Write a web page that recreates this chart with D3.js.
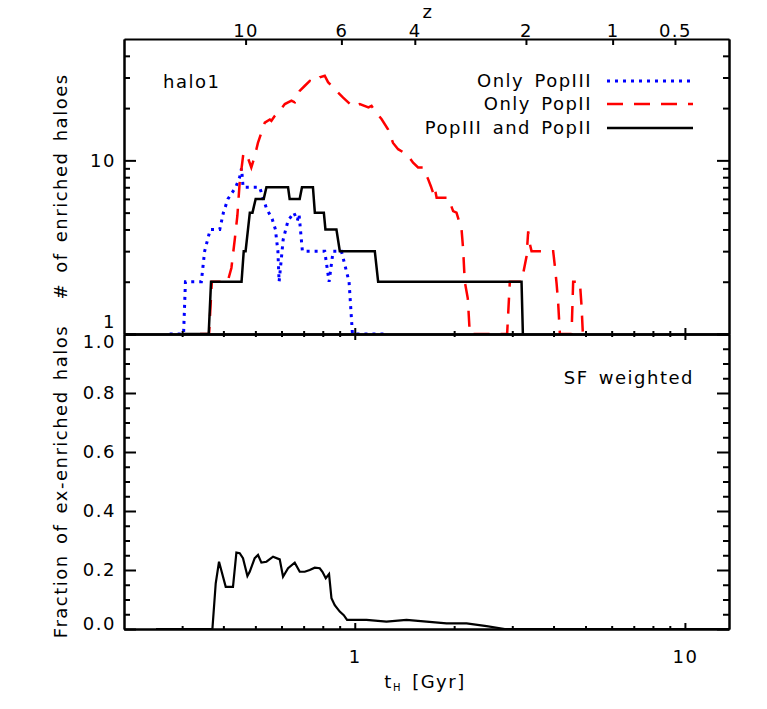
<!DOCTYPE html>
<html lang="en">
<head>
<meta charset="utf-8">
<title>enriched haloes vs time</title>
<script src="https://cdn.jsdelivr.net/npm/d3@7"></script>
<style>
  body { margin: 0; background: #fff; }
  svg text {
    font-family: "DejaVu Sans", sans-serif;
    font-size: 18px;
    letter-spacing: 1.5px;
    word-spacing: 3px;
    fill: #000;
  }
  .axis path, .axis line { stroke: #000; stroke-width: 2px; }
</style>
</head>
<body>
<svg id="chart" width="767" height="709"></svg>
<script>
// values, t in Gyr
var popIIIonly = [[0.275,1],[0.303,1],[0.307,2],[0.343,2],[0.351,3],[0.365,4],[0.390,4],[0.400,5],
  [0.413,6],[0.436,7],[0.448,8],[0.454,9],[0.459,7],[0.515,7],[0.540,5.3],[0.562,4.6],[0.575,4],
  [0.585,3],[0.590,2],[0.607,3.5],[0.628,4.5],[0.654,5],[0.670,4.5],[0.678,4.9],[0.694,3],
  [0.811,3],[0.836,2],[0.860,3],[0.911,3],[0.961,2],[0.984,1],[1.25,1]];

var popIIonly = [[0.340,1],[0.362,1],[0.369,2],[0.412,2],[0.423,2.4],[0.433,3.5],[0.441,4.8],
  [0.448,7.4],[0.454,9],[0.460,11],[0.464,11.1],[0.475,10.3],[0.486,9.1],[0.498,10.6],[0.509,12.6],
  [0.521,14.4],[0.534,16.5],[0.553,17.2],[0.559,16.9],[0.572,18],[0.593,19.3],[0.614,21.1],
  [0.643,22.1],[0.658,21.6],[0.681,25.1],[0.706,26.9],[0.731,28.7],[0.757,28.2],[0.783,30.1],
  [0.811,30.7],[0.830,28.2],[0.850,26.9],[0.922,23],[0.970,21],[0.990,20.3],[1.036,21.1],
  [1.100,20.2],[1.124,20.6],[1.150,19.3],[1.205,17.3],[1.261,15.1],[1.306,12.6],[1.353,11.6],
  [1.418,11],[1.451,10.6],[1.502,9.7],[1.555,9.1],[1.611,9.1],[1.668,7.8],[1.700,7.1],[1.727,6.5],
  [1.745,7.0],[1.770,6.1],[1.918,6.1],[1.986,5.1],[2.033,5.0],[2.106,4.0],[2.129,3.1],[2.154,2.0],
  [2.200,1.6],[2.231,1],[2.894,1],[2.949,2],[3.200,2],[3.314,2.8],[3.352,3.9],[3.391,3.3],
  [3.431,3],[3.990,3],[4.038,2.45],[4.086,1.96],[4.132,1.5],[4.181,1],[4.536,1],[4.587,2],
  [4.806,2],[4.864,1.44],[4.908,1]];

var popIIIandII = [[0.300,1],[0.361,1],[0.367,2],[0.454,2],[0.461,3],[0.467,3],[0.481,5],[0.490,5],
  [0.501,6],[0.530,6],[0.540,7],[0.628,7],[0.635,6],[0.681,6],[0.692,7],[0.747,7],[0.757,5],
  [0.806,5],[0.815,4],[0.880,4],[0.901,3],[1.150,3],[1.177,2],[3.200,2],[3.230,1]];

var fracSF = [[0.25,0],[0.3705,0],[0.3792,0.155],[0.3880,0.228],[0.4066,0.143],[0.4277,0.143],
  [0.4380,0.259],[0.4482,0.257],[0.4586,0.240],[0.4730,0.180],[0.4806,0.194],[0.4977,0.240],
  [0.5093,0.251],[0.5214,0.225],[0.5401,0.228],[0.5656,0.245],[0.5925,0.236],[0.6064,0.177],
  [0.6280,0.206],[0.6579,0.225],[0.6813,0.194],[0.7055,0.194],[0.7305,0.200],[0.7565,0.208],
  [0.7834,0.206],[0.7981,0.194],[0.8169,0.172],[0.8358,0.186],[0.8500,0.104],[0.8697,0.081],
  [0.9006,0.059],[0.9262,0.047],[0.9477,0.031],[0.9881,0.031],[1.0851,0.031],[1.2475,0.025],
  [1.4346,0.031],[1.6496,0.025],[1.8967,0.019],[2.181,0.019],[2.507,0.010],[2.848,0],[13.6,0]];

// ticks
var zTickT = [0.467, 0.911, 1.52, 3.30, 6.04, 9.33];
var zTickLabels = ["10", "6", "4", "2", "1", "0.5"];
var tMajor = [1, 10];
var tMinor = [0.3, 0.4, 0.5, 0.6, 0.7, 0.8, 0.9, 2, 3, 4, 5, 6, 7, 8, 9];
var nMajor = [1, 10];
var nMinor = [2, 3, 4, 5, 6, 7, 8, 9, 20, 30, 40];
var fMajor = [0, 0.2, 0.4, 0.6, 0.8, 1.0];
var fMinor = [0.05, 0.1, 0.15, 0.25, 0.3, 0.35, 0.45, 0.5, 0.55, 0.65, 0.7, 0.75, 0.85, 0.9, 0.95];

var legendNames = ["Only PopIII", "Only PopII", "PopIII and PopII"];

var svg = d3.select("#chart");
var W = 767, H = 709;
var left = 124, right = 729, top1 = 39, mid = 334, bot2 = 629;

var x = d3.scaleLog().domain([0.2, 13.6]).range([left, right]);
var yTop = d3.scaleLog().domain([1, 50]).range([mid, top1]);
var yBot = d3.scaleLinear().domain([0, 1]).range([bot2, mid]);

svg.append("rect").attr("width", W).attr("height", H).attr("fill", "#fff");

var defs = svg.append("defs");
defs.append("clipPath").attr("id", "clipTop").append("rect")
    .attr("x", left).attr("y", top1).attr("width", right - left).attr("height", mid - top1);
defs.append("clipPath").attr("id", "clipBot").append("rect")
    .attr("x", left).attr("y", mid).attr("width", right - left).attr("height", bot2 - mid);

var lineTop = d3.line().x(function(d) { return x(d[0]); }).y(function(d) { return yTop(d[1]); });
var lineBot = d3.line().x(function(d) { return x(d[0]); }).y(function(d) { return yBot(d[1]); });

var styles = [
  {color: "#0000ff", width: 3, dash: "3,5"},
  {color: "#ff0000", width: 2.5, dash: "16,11"},
  {color: "#000000", width: 2.5, dash: null}
];
var series = [popIIIonly, popIIonly, popIIIandII];

//curves
var gTop = svg.append("g").attr("clip-path", "url(#clipTop)");
series.forEach(function(s, i) {
  gTop.append("path").datum(s)
      .attr("d", lineTop)
      .attr("fill", "none")
      .attr("stroke", styles[i].color)
      .attr("stroke-width", styles[i].width)
      .attr("stroke-dasharray", styles[i].dash);
});

svg.append("g").attr("clip-path", "url(#clipBot)")
  .append("path").datum(fracSF)
    .attr("d", lineBot)
    .attr("fill", "none")
    .attr("stroke", "#000")
    .attr("stroke-width", 2.2);

//axes
function addAxis(tx, ty, axis) {
  return svg.append("g").attr("class", "axis")
      .attr("transform", "translate(" + tx + "," + ty + ")")
      .call(axis);
}

// top panel
addAxis(0, top1, d3.axisTop(x).tickValues(zTickT).tickSize(-6).tickSizeOuter(0).tickPadding(2)
    .tickFormat(function(d) { return zTickLabels[zTickT.indexOf(d)]; }));
addAxis(0, mid, d3.axisBottom(x).tickValues(tMajor).tickSize(-6).tickSizeOuter(0).tickFormat(""));
addAxis(0, mid, d3.axisBottom(x).tickValues(tMinor).tickSize(-3).tickSizeOuter(0).tickFormat(""));
var yl = addAxis(left, 0, d3.axisLeft(yTop).tickValues(nMajor).tickSize(-12).tickSizeOuter(0).tickPadding(8)
    .tickFormat(d3.format("d")));
yl.selectAll("text").attr("y", function(d) { return d === 1 ? -12 : 0; });
addAxis(left, 0, d3.axisLeft(yTop).tickValues(nMinor).tickSize(-6).tickSizeOuter(0).tickFormat(""));
addAxis(right, 0, d3.axisRight(yTop).tickValues(nMajor).tickSize(-12).tickSizeOuter(0).tickFormat(""));
addAxis(right, 0, d3.axisRight(yTop).tickValues(nMinor).tickSize(-6).tickSizeOuter(0).tickFormat(""));

// bottom panel
addAxis(0, mid, d3.axisTop(x).tickValues(tMajor).tickSize(-6).tickSizeOuter(0).tickFormat(""));
addAxis(0, mid, d3.axisTop(x).tickValues(tMinor).tickSize(-3).tickSizeOuter(0).tickFormat(""));
addAxis(0, bot2, d3.axisBottom(x).tickValues(tMajor).tickSize(-6).tickSizeOuter(0).tickPadding(21)
    .tickFormat(d3.format("d")));
addAxis(0, bot2, d3.axisBottom(x).tickValues(tMinor).tickSize(-3).tickSizeOuter(0).tickFormat(""));
var fl = addAxis(left, 0, d3.axisLeft(yBot).tickValues(fMajor).tickSize(-12).tickSizeOuter(0).tickPadding(8)
    .tickFormat(d3.format(".1f")));
fl.selectAll("text").attr("y", function(d) { return d === 1 ? 8 : (d === 0 ? -5 : 0); });
addAxis(left, 0, d3.axisLeft(yBot).tickValues(fMinor).tickSize(-6).tickSizeOuter(0).tickFormat(""));
addAxis(right, 0, d3.axisRight(yBot).tickValues(fMajor).tickSize(-12).tickSizeOuter(0).tickFormat(""));
addAxis(right, 0, d3.axisRight(yBot).tickValues(fMinor).tickSize(-6).tickSizeOuter(0).tickFormat(""));

//titles
svg.append("text").attr("x", 428).attr("y", 18).attr("text-anchor", "middle").text("z");

svg.append("text")
    .attr("transform", "translate(67," + ((top1 + mid) / 2) + ") rotate(-90)")
    .attr("text-anchor", "middle")
    .text("# of enriched haloes");
svg.append("text")
    .attr("transform", "translate(67," + ((mid + bot2) / 2) + ") rotate(-90)")
    .attr("text-anchor", "middle")
    .text("Fraction of ex-enriched halos");

var xt = svg.append("text").attr("x", 425).attr("y", 688).attr("text-anchor", "middle");
xt.append("tspan").text("t");
xt.append("tspan").attr("dy", 3).style("font-size", "10px").text("H");
xt.append("tspan").attr("dy", -3).text(" [Gyr]");

svg.append("text").attr("x", 163).attr("y", 88).text("halo1");
svg.append("text").attr("x", 694).attr("y", 384).attr("text-anchor", "end").text("SF weighted");

//legend
var legendY = [81, 104, 128];
legendNames.forEach(function(name, i) {
  svg.append("text").attr("x", 592).attr("y", legendY[i]).attr("dy", "0.36em")
      .attr("text-anchor", "end").text(name);
  svg.append("line")
      .attr("x1", 607).attr("x2", 693)
      .attr("y1", legendY[i]).attr("y2", legendY[i])
      .attr("stroke", styles[i].color)
      .attr("stroke-width", styles[i].width)
      .attr("stroke-dasharray", styles[i].dash);
});
</script>
</body>
</html>
